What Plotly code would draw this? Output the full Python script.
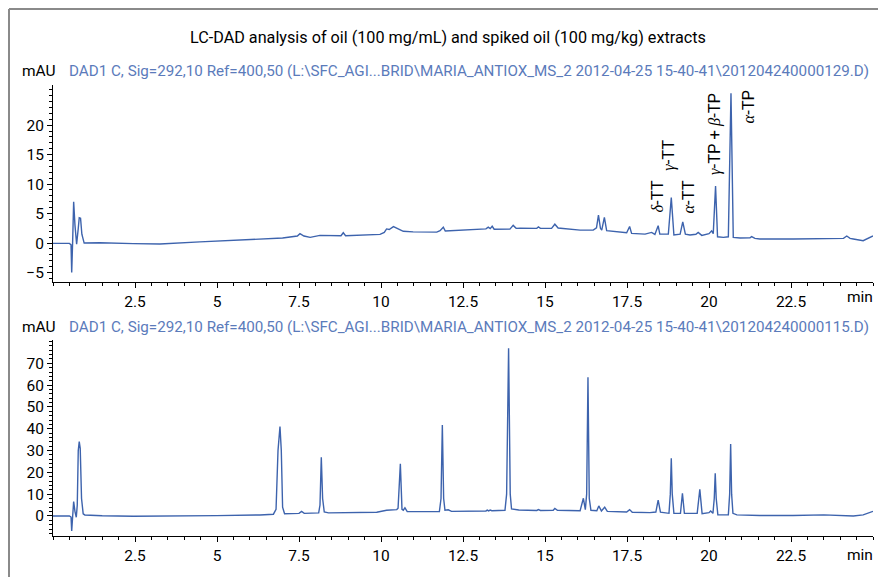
import plotly.graph_objects as go

# ---------------- data ----------------
top_time = [0.00, 0.50, 0.55, 0.57, 0.60, 0.63, 0.67, 0.72, 0.77, 0.80, 0.84, 0.88, 0.95,
            1.43, 2.45, 3.26, 4.48, 6.00, 7.00, 7.45, 7.53, 7.65, 7.84, 8.14, 8.78, 8.85, 8.92,
            9.97, 10.10, 10.17, 10.25, 10.38, 10.50, 10.68, 10.98, 11.70, 11.80, 11.90, 11.96,
            12.71, 13.02, 13.20, 13.27, 13.33, 13.39, 13.45, 13.93, 14.03, 14.12, 14.24, 14.75,
            14.80, 14.86, 15.20, 15.30, 15.40, 16.07, 16.47, 16.57, 16.63, 16.69, 16.73, 16.81,
            16.88, 17.49, 17.58, 17.64, 18.05, 18.25, 18.35, 18.45, 18.50, 18.76, 18.85, 18.93,
            19.12, 19.20, 19.28, 19.42, 19.60, 19.67, 19.78, 20.00, 20.08, 20.13, 20.20, 20.26,
            20.44, 20.59, 20.67, 20.74, 20.95, 21.25, 21.30, 21.40, 21.55, 22.57, 23.59, 24.10,
            24.20, 24.30, 24.40, 24.70, 25.00]
top_mau = [-0.05, -0.05, -0.3, -5.0, 0.5, 7.0, 3.0, -0.2, 2.5, 4.3, 4.2, 1.5, 0.0,
           0.05, -0.1, -0.15, 0.2, 0.6, 0.85, 1.2, 1.6, 1.2, 0.97, 1.3, 1.25, 1.75, 1.25,
           1.47, 1.8, 2.4, 2.3, 2.8, 2.5, 2.0, 1.9, 1.86, 2.1, 2.7, 2.05,
           2.2, 2.37, 2.4, 2.7, 2.45, 2.85, 2.35, 2.37, 3.0, 2.5, 2.54, 2.5,
           2.75, 2.5, 2.5, 3.2, 2.55, 2.2, 2.2, 2.6, 4.75, 2.5, 2.2, 4.35,
           2.1, 1.75, 2.8, 1.64, 1.52, 1.81, 1.47, 2.95, 1.52, 1.52, 7.7, 1.36,
           1.5, 3.6, 1.5, 1.36, 1.5, 1.81, 1.3, 1.6, 2.08, 1.6, 9.66, 1.07,
           0.97, 1.07, 25.4, 0.97, 0.85, 0.9, 1.1, 0.8, 0.68, 0.68, 0.7, 0.8,
           1.2, 0.8, 0.7, 0.4, 1.2]

bot_time = [0.00, 0.50, 0.55, 0.57, 0.60, 0.63, 0.67, 0.71, 0.74, 0.77, 0.80, 0.83, 0.87, 0.92, 0.97,
            1.50, 2.45, 3.50, 4.99, 6.31, 6.72, 6.80, 6.86, 6.92, 6.96, 7.00, 7.06, 7.50, 7.58, 7.66,
            8.10, 8.14, 8.18, 8.22, 8.27, 8.40, 9.87, 10.17, 10.48, 10.52, 10.59, 10.64, 10.68, 10.73,
            10.80, 11.78, 11.83, 11.87, 11.91, 11.95, 12.05, 12.15, 13.20, 13.24, 13.28, 13.33, 13.38,
            13.78, 13.83, 13.89, 13.94, 13.98, 14.20, 14.75, 14.80, 14.86, 15.25, 15.30, 15.38,
            16.07, 16.17, 16.23, 16.27, 16.31, 16.35, 16.40, 16.58, 16.64, 16.72, 16.82, 16.90,
            17.49, 17.58, 17.66, 18.20, 18.38, 18.45, 18.52, 18.78, 18.82, 18.85, 18.88, 18.93,
            19.13, 19.19, 19.25, 19.64, 19.72, 19.79, 20.00, 20.05, 20.12, 20.16, 20.19, 20.22, 20.27,
            20.59, 20.63, 20.66, 20.69, 20.73, 20.85, 21.55, 22.56, 23.50, 24.40, 24.70, 25.00]
bot_mau = [0.0, 0.0, -0.5, -6.9, 0.0, 6.6, 2.0, -0.6, 5.0, 30.0, 34.1, 31.0, 8.0, 1.0, 0.46,
           0.1, -0.15, -0.1, 0.15, 0.46, 0.8, 3.0, 30.0, 41.0, 30.0, 4.0, 1.0, 1.2, 2.1, 1.2,
           1.4, 5.0, 26.9, 8.0, 1.8, 1.4, 1.7, 2.6, 2.9, 3.5, 23.9, 3.0, 2.6, 3.7,
           2.0, 2.0, 8.0, 41.7, 8.0, 2.6, 2.8, 2.1, 2.3, 2.7, 2.3, 2.7, 2.4,
           2.6, 10.0, 76.9, 10.0, 3.2, 2.7, 2.5, 2.9, 2.5, 2.6, 3.4, 2.6,
           2.4, 8.1, 2.9, 10.0, 63.6, 8.0, 2.6, 2.4, 4.6, 2.3, 4.0, 2.1,
           1.8, 2.9, 1.7, 1.5, 1.8, 7.3, 1.7, 1.2, 10.0, 26.5, 10.0, 1.2,
           1.2, 10.4, 1.2, 1.2, 12.2, 1.0, 1.5, 2.3, 1.2, 8.0, 19.6, 8.0, 0.5,
           0.5, 10.0, 33.0, 10.0, 1.2, 0.5, 0.2, 0.2, 0.5, 0.0, 0.5, 2.1]

x_tick_vals = [2.5, 5, 7.5, 10, 12.5, 15, 17.5, 20, 22.5]
x_tick_text = ["2.5", "5", "7.5", "10", "12.5", "15", "17.5", "20", "22.5"]
top_y_ticks = [-5, 0, 5, 10, 15, 20]
bot_y_ticks = [0, 10, 20, 30, 40, 50, 60, 70]

peak_labels = ["δ", "γ", "α", "γ", "α"]
peak_suffix = ["-TT", "-TT", "-TT", "-TP + <i>β</i>-TP", "-TP"]
peak_label_time = [18.43, 18.76, 19.39, 20.15, 21.20]
peak_label_mau = [4.75, 11.9, 4.75, 11.2, 20.0]

title_text = "LC-DAD analysis of oil (100 mg/mL) and spiked oil (100 mg/kg) extracts"
hdr_top = "DAD1 C, Sig=292,10 Ref=400,50 (L:\\SFC_AGI...BRID\\MARIA_ANTIOX_MS_2 2012-04-25 15-40-41\\201204240000129.D)"
hdr_bot = "DAD1 C, Sig=292,10 Ref=400,50 (L:\\SFC_AGI...BRID\\MARIA_ANTIOX_MS_2 2012-04-25 15-40-41\\201204240000115.D)"

# ---------------- styling ----------------
FONT = "Roboto, Liberation Sans, sans-serif"
SERIF = "Liberation Serif"
LINE = "#3d63ad"
HDR = "#5b7bbb"

fig = go.Figure()
fig.add_trace(go.Scatter(x=top_time, y=top_mau, mode="lines", line=dict(color=LINE, width=1.4),
                         xaxis="x", yaxis="y", showlegend=False, hoverinfo="skip"))
fig.add_trace(go.Scatter(x=bot_time, y=bot_mau, mode="lines", line=dict(color=LINE, width=1.4),
                         xaxis="x2", yaxis="y2", showlegend=False, hoverinfo="skip"))

axis_common = dict(showgrid=False, zeroline=False, showline=True, linecolor="black", linewidth=1,
                   ticks="outside", ticklen=5, tickcolor="black", tickwidth=1,
                   tickfont=dict(family=FONT, size=15.5, color="black"))

xa = dict(axis_common, range=[0, 25], tickmode="array", tickvals=x_tick_vals, ticktext=x_tick_text,
          minor=dict(dtick=0.5, tick0=0, ticks="outside", ticklen=3, tickcolor="black"))

top_dom = [(536 - 282) / 451, 1.0]
bot_dom = [0.0, (536 - 340) / 451]

fig.update_layout(
    width=878, height=577,
    margin=dict(l=53, r=5, t=85, b=41),
    paper_bgcolor="white", plot_bgcolor="white",
    font=dict(family=FONT, size=16, color="black"),
    xaxis=dict(xa, anchor="y", domain=[0, 1]),
    yaxis=dict(axis_common, range=[-6.6, 26.8], domain=top_dom, anchor="x",
               tickmode="array", tickvals=top_y_ticks,
               minor=dict(dtick=1, tick0=0, ticks="outside", ticklen=3, tickcolor="black")),
    xaxis2=dict(xa, anchor="y2", domain=[0, 1]),
    yaxis2=dict(axis_common, range=[-9.2, 80.7], domain=bot_dom, anchor="x2",
                tickmode="array", tickvals=bot_y_ticks,
                minor=dict(dtick=2, tick0=0, ticks="outside", ticklen=3, tickcolor="black")),
)

ann = []
def px_x(p):
    return (p - 53) / 820
def px_y(p):
    return (536 - p) / 451

ann.append(dict(text=title_text, xref="paper", yref="paper", x=px_x(448), y=px_y(38),
                xanchor="center", yanchor="middle", showarrow=False,
                font=dict(family=FONT, size=16.2, color="black")))
for hdr, yc in [(hdr_top, 71), (hdr_bot, 327)]:
    ann.append(dict(text="mAU", xref="paper", yref="paper", x=px_x(58), y=px_y(yc),
                    xanchor="right", yanchor="middle", showarrow=False,
                    font=dict(family=FONT, size=15.5, color="black")))
    ann.append(dict(text=hdr, xref="paper", yref="paper", x=px_x(67), y=px_y(yc),
                    xanchor="left", yanchor="middle", showarrow=False,
                    font=dict(family=FONT, size=15.2, color=HDR)))
for yc in [297, 555]:
    ann.append(dict(text="min", xref="paper", yref="paper", x=px_x(875), y=px_y(yc),
                    xanchor="right", yanchor="middle", showarrow=False,
                    font=dict(family=FONT, size=15.5, color="black")))

for g, suf, t, v in zip(peak_labels, peak_suffix, peak_label_time, peak_label_mau):
    txt = "<span style='font-family:%s'><i>%s</i></span>%s" % (SERIF, g, suf)
    txt = txt.replace("<i>β</i>", "<span style='font-family:%s'><i>β</i></span>" % SERIF)
    ann.append(dict(text=txt, xref="x", yref="y", x=t, y=v, textangle=-90,
                    xanchor="center", yanchor="bottom", showarrow=False,
                    font=dict(family=FONT, size=16.5, color="black")))

fig.update_layout(annotations=ann)

# outer frame (left and top edges visible)
fig.add_shape(type="line", xref="paper", yref="paper", x0=px_x(9), x1=px_x(9), y0=px_y(9), y1=px_y(600),
              line=dict(color="#8a8a8a", width=2))
fig.add_shape(type="line", xref="paper", yref="paper", x0=px_x(9), x1=px_x(900), y0=px_y(9), y1=px_y(9),
              line=dict(color="#8a8a8a", width=2))

# remove the browser's default body margin so the 878x577 figure fills the window exactly
fig.write_html("out.html",
               config={"displayModeBar": False, "staticPlot": True},
               post_script="document.body.style.margin='0';document.body.style.overflow='hidden';")
